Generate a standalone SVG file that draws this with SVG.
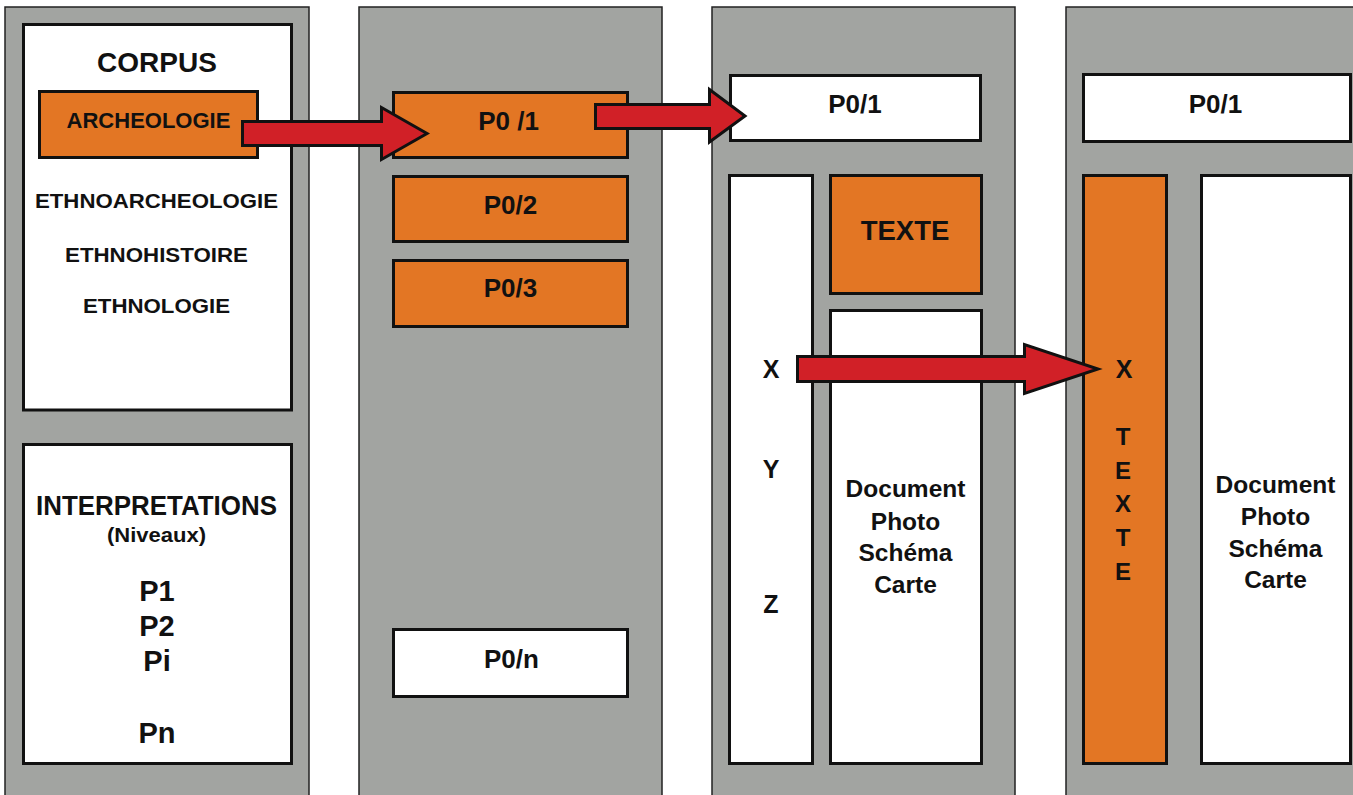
<svg xmlns="http://www.w3.org/2000/svg" width="1353" height="795" viewBox="0 0 1353 795">
<style>
.panel{fill:#a2a4a1;stroke:#222;stroke-width:1.5}
.box{stroke:#111;stroke-width:3}
.w{fill:#ffffff}
.o{fill:#e37624}
.t{font-family:"Liberation Sans",Arial,Helvetica,sans-serif;font-weight:bold;fill:#111;text-anchor:middle}
.arrow{fill:#d12027;stroke:#111;stroke-width:3;stroke-linejoin:miter}
</style>
<rect width="1353" height="795" fill="#ffffff"/>
<g id="panel1">
<rect class="panel" x="5" y="7" width="304" height="800"/>
</g>
<g id="panel2">
<rect class="panel" x="359" y="7" width="303" height="800"/>
</g>
<g id="panel3">
<rect class="panel" x="712" y="7" width="303" height="800"/>
</g>
<g id="panel4">
<rect class="panel" x="1066" y="7" width="303" height="800"/>
</g>
<g id="corpus">
<rect class="box w" x="23.5" y="24.5" width="268" height="385.5"/>
<text class="t" x="157" y="72" font-size="28">CORPUS</text>
<text class="t" x="156.5" y="208" font-size="19.5" textLength="243" lengthAdjust="spacingAndGlyphs">ETHNOARCHEOLOGIE</text>
<text class="t" x="156.5" y="262" font-size="19.5" textLength="183" lengthAdjust="spacingAndGlyphs">ETHNOHISTOIRE</text>
<text class="t" x="156.5" y="313" font-size="19.5" textLength="147" lengthAdjust="spacingAndGlyphs">ETHNOLOGIE</text>
</g>
<g id="archeologie">
<rect class="box o" x="39.5" y="91.5" width="218" height="66"/>
<text class="t" x="148.5" y="128" font-size="22">ARCHEOLOGIE</text>
</g>
<g id="interpretations">
<rect class="box w" x="23.5" y="444.5" width="268" height="319"/>
<text class="t" x="156.5" y="515" font-size="27" textLength="241" lengthAdjust="spacingAndGlyphs">INTERPRETATIONS</text>
<text class="t" x="156.5" y="542" font-size="20" textLength="99" lengthAdjust="spacingAndGlyphs">(Niveaux)</text>
<text class="t" x="157" y="601" font-size="29">P1</text>
<text class="t" x="157" y="636" font-size="29">P2</text>
<text class="t" x="157" y="671" font-size="29">Pi</text>
<text class="t" x="157" y="743" font-size="29">Pn</text>
</g>
<g id="p01-a">
<rect class="box o" x="393.5" y="92.5" width="234" height="65"/>
<text class="t" x="508.5" y="130" font-size="26">P0 /1</text>
</g>
<g id="p02">
<rect class="box o" x="393.5" y="176.5" width="234" height="65"/>
<text class="t" x="510.5" y="214" font-size="26">P0/2</text>
</g>
<g id="p03">
<rect class="box o" x="393.5" y="260.5" width="234" height="66"/>
<text class="t" x="510.5" y="297" font-size="26">P0/3</text>
</g>
<g id="p0n">
<rect class="box w" x="393.5" y="629.5" width="234" height="67"/>
<text class="t" x="511.5" y="668" font-size="26">P0/n</text>
</g>
<g id="p01-b">
<rect class="box w" x="730.5" y="75.5" width="250" height="65"/>
<text class="t" x="855" y="113" font-size="26">P0/1</text>
</g>
<g id="xyz">
<rect class="box w" x="729.5" y="175.5" width="83" height="588"/>
<text class="t" x="771" y="378" font-size="25">X</text>
<text class="t" x="771" y="478" font-size="25">Y</text>
<text class="t" x="771" y="613" font-size="25">Z</text>
</g>
<g id="texte-a">
<rect class="box o" x="830.5" y="175.5" width="151" height="118"/>
<text class="t" x="905" y="240" font-size="27.5">TEXTE</text>
</g>
<g id="document-a">
<rect class="box w" x="830.5" y="310.5" width="151" height="453"/>
<text class="t" x="905.5" y="497" font-size="24.5">Document</text>
<text class="t" x="905.5" y="530" font-size="24.5">Photo</text>
<text class="t" x="905.5" y="561" font-size="24.5">Schéma</text>
<text class="t" x="905.5" y="593" font-size="24.5">Carte</text>
</g>
<g id="p01-c">
<rect class="box w" x="1083.5" y="74.5" width="267" height="67"/>
<text class="t" x="1215.5" y="113" font-size="26">P0/1</text>
</g>
<g id="texte-b">
<rect class="box o" x="1083.5" y="175.5" width="83" height="588"/>
<text class="t" x="1124" y="378" font-size="25">X</text>
<text class="t" x="1123" y="445" font-size="24">T</text>
<text class="t" x="1123" y="479" font-size="24">E</text>
<text class="t" x="1123" y="512" font-size="24">X</text>
<text class="t" x="1123" y="546" font-size="24">T</text>
<text class="t" x="1123" y="580" font-size="24">E</text>
</g>
<g id="document-b">
<rect class="box w" x="1201.5" y="175.5" width="149" height="588"/>
<text class="t" x="1275.5" y="493" font-size="24.5">Document</text>
<text class="t" x="1275.5" y="525" font-size="24.5">Photo</text>
<text class="t" x="1275.5" y="557" font-size="24.5">Schéma</text>
<text class="t" x="1275.5" y="588" font-size="24.5">Carte</text>
</g>
<g id="connectors">
<polygon class="arrow" points="242.5,121.5 381.5,121.5 381.5,107.5 427,133.5 381.5,159.5 381.5,145.5 242.5,145.5"/>
<polygon class="arrow" points="595.5,104.5 709.5,104.5 709.5,89.5 745,116 709.5,142 709.5,128.5 595.5,128.5"/>
<polygon class="arrow" points="797.5,356.5 1024.5,356.5 1024.5,344.5 1098,369 1024.5,393.5 1024.5,381.5 797.5,381.5"/>
</g>
</svg>
